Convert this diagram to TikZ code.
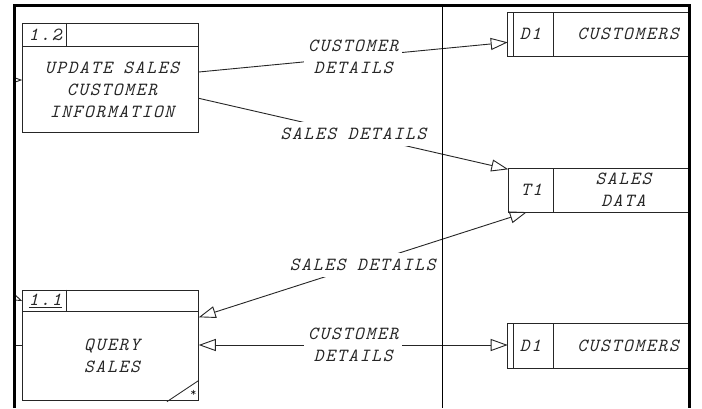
\documentclass[tikz,border=0pt]{standalone}
\usepackage{fontspec}
\usetikzlibrary{arrows.meta,calc}
\newfontfamily\dfdfont{lmmono10-italic.otf}[LetterSpace=9.5]
\begin{document}
\begin{tikzpicture}[x=1pt,y=-1pt,
  ln/.style={draw=black!85, line width=0.9pt},
  txt/.style={font=\dfdfont\fontsize{18.5}{22}\selectfont, text=black!85, align=center, inner sep=0pt},
  procbox/.style={ln, rectangle, inner sep=0pt, minimum width=175.6pt, minimum height=109.4pt},
  slot/.style={rectangle, inner sep=0pt, anchor=north west, minimum width=182pt},
  lbl/.style={txt, fill=white, inner xsep=4pt, inner ysep=6pt},
  flow/.style={ln, -{Triangle[open, length=17pt, width=12pt]}},
  biflow/.style={ln, {Triangle[open, length=17pt, width=12pt]}-{Triangle[open, length=17pt, width=12pt]}},
]
\useasboundingbox (0,0) rectangle (702,408);
\fill[white] (0,0) rectangle (702,408);

% process 1.2
\node[procbox] (p12) at (110.5,78) {};
\draw[ln] ($(p12.north west)+(0,23.4)$) -- ($(p12.north east)+(0,23.4)$);
\draw[ln] ($(p12.north west)+(44,0)$) -- ($(p12.north west)+(44,23.4)$);
\node[txt] (p12id) at ($(p12.north west)+(23,11.5)$) {1.2};
\node[txt] (p12t) at (112,90) {UPDATE SALES\\CUSTOMER\\INFORMATION};

% process 1.1
\node[procbox, minimum height=110pt] (p11) at (110.5,345) {};
\draw[ln] ($(p11.north west)+(0,21.7)$) -- ($(p11.north east)+(0,21.7)$);
\draw[ln] ($(p11.north west)+(44,0)$) -- ($(p11.north west)+(44,21.7)$);
\node[txt] (p11id) at ($(p11.north west)+(23,11.5)$) {\underline{1.1}};
\node[txt] (p11t) at (112,356) {QUERY\\SALES};
\draw[ln] ($(p11.south east)+(-31.8,1.2)$) -- ($(p11.south east)+(0,-20)$);
\node[font=\fontsize{12}{12}\selectfont\ttfamily, inner sep=0pt] (ast) at (193.5,393) {*};

% data store D1 (top)
\node[slot, minimum height=43.7pt] (d1a) at (507.7,12.3) {};
\draw[ln] (d1a.north east) -- (d1a.north west) -- (d1a.south west) -- (d1a.south east);
\draw[ln] ($(d1a.north west)+(5.6,0)$) -- ($(d1a.south west)+(5.6,0)$);
\draw[ln] ($(d1a.north west)+(45.6,0)$) -- ($(d1a.south west)+(45.6,0)$);
\node[txt] (d1aid) at (530.5,34) {D1};
\node[txt] (d1aname) at (628,34) {CUSTOMERS};

% data store T1
\node[slot, minimum height=43.4pt] (t1) at (508.3,168.3) {};
\draw[ln] (t1.north east) -- (t1.north west) -- (t1.south west) -- (t1.south east);
\draw[ln] ($(t1.north west)+(45,0)$) -- ($(t1.south west)+(45,0)$);
\node[txt] (t1id) at (531.5,190) {T1};
\node[txt] (t1name) at (623.5,190) {SALES\\DATA};

% data store D1 (bottom)
\node[slot, minimum height=44.4pt] (d1b) at (507.7,323.3) {};
\draw[ln] (d1b.north east) -- (d1b.north west) -- (d1b.south west) -- (d1b.south east);
\draw[ln] ($(d1b.north west)+(5.6,0)$) -- ($(d1b.south west)+(5.6,0)$);
\draw[ln] ($(d1b.north west)+(45.6,0)$) -- ($(d1b.south west)+(45.6,0)$);
\node[txt] (d1bid) at (530.5,345.5) {D1};
\node[txt] (d1bname) at (628,345.5) {CUSTOMERS};

% flows
\draw[flow] ([yshift=6pt]p12.east) -- node[lbl] (l1) {CUSTOMER\\DETAILS} ([yshift=-8pt]d1a.west);
\draw[flow] ([yshift=-20.3pt]p12.east) -- node[lbl] (l2) {SALES DETAILS} ([yshift=-1pt]t1.north west);
\draw[biflow] ([xshift=18.5pt]t1.south west) -- node[lbl] (l3) {SALES DETAILS} ([yshift=27.7pt]p11.east);
\draw[biflow] (p11.east) -- node[lbl] (l4) {CUSTOMER\\DETAILS} (p11.east -| d1b.west);

% flows entering from outside the window
\begin{scope}
  \clip (15,0) rectangle (702,408);
  \coordinate (ext1) at (-10,80);
  \coordinate (ext2) at (-5,289);
  \coordinate (ext3) at (0,345);
  \draw[flow] (ext1) -- (p12.west |- ext1);
  \draw[flow] (ext2) -- ([yshift=-11.5pt]p11.north west);
  \draw[ln] (ext3) -- (p11.west);
\end{scope}

% divider line and window frame
\draw[line width=1pt, black] (442,5.5) -- (442,408);
\draw[line width=3.5pt, black] (14.5,408) -- (14.5,5.5) -- (689.3,5.5) -- (689.3,408);
\end{tikzpicture}
\end{document}
